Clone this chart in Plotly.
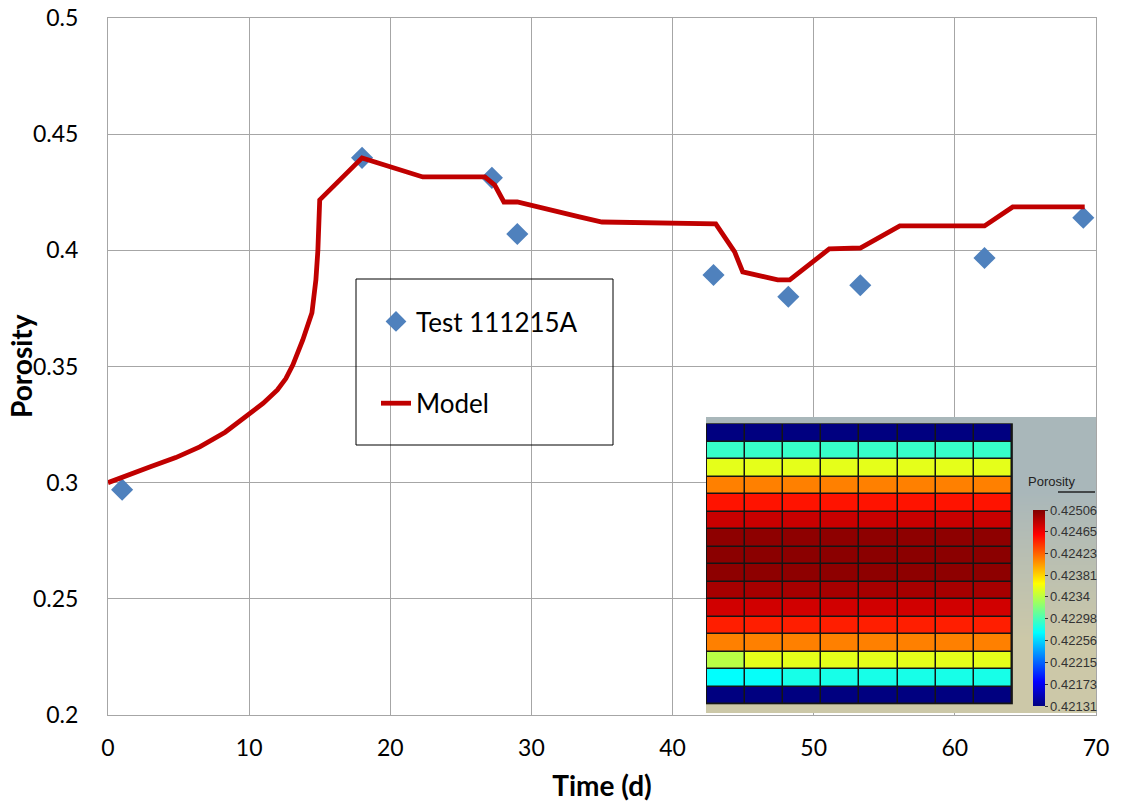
import plotly.graph_objects as go

# ---------------- data ----------------
test_t = [1, 18, 27.2, 29, 42.9, 48.2, 53.3, 62.1, 69.1]
test_p = [0.297, 0.4398, 0.4312, 0.407, 0.3894, 0.380, 0.385, 0.3967, 0.414]

model_t = [0, 1.5, 3, 4.8, 6.5, 8.3, 10, 11, 12, 12.6, 13.1, 13.8, 14.45, 14.73, 14.87, 15.0,
           18.0, 22.3, 26.7, 27.4, 28.05, 29.0, 33.4, 35, 43.06, 44.4, 44.97, 47.45,
           48.3, 51.1, 53.3, 56.1, 62.1, 64.1, 69.2]
model_p = [0.300, 0.3032, 0.3068, 0.3108, 0.3154, 0.3217, 0.3292, 0.3342, 0.3399, 0.3448, 0.3507,
           0.3614, 0.3731, 0.3873, 0.400, 0.4217, 0.4398, 0.4316, 0.4316, 0.4281, 0.4208,
           0.4208, 0.4144, 0.4122, 0.4114, 0.3993, 0.3907, 0.3873, 0.3873, 0.4006, 0.401,
           0.4105, 0.4105, 0.4187, 0.4187]

x_ticks = [0, 10, 20, 30, 40, 50, 60, 70]
y_ticks = [0.2, 0.25, 0.3, 0.35, 0.4, 0.45, 0.5]
y_ticktext = ["0.2", "0.25", "0.3", "0.35", "0.4", "0.45", "0.5"]

# inset porosity field (16 rows x 8 columns, top row first)
por_rows = [
    [0.42131] * 8,
    [0.42292] * 8,
    [0.42356] * 8,
    [0.42412] * 8,
    [0.42452] * 8,
    [0.42479] * 8,
    [0.42501] * 8,
    [0.42502] * 8,
    [0.42501] * 8,
    [0.42492] * 8,
    [0.42476] * 8,
    [0.42448] * 8,
    [0.42412] * 8,
    [0.42340] + [0.42356] * 7,
    [0.42272, 0.42274] + [0.42280] * 6,
    [0.42131] * 8,
]
cb_vals = [0.42506, 0.42465, 0.42423, 0.42381, 0.4234, 0.42298, 0.42256, 0.42215, 0.42173, 0.42131]
cb_text = ["0.42506", "0.42465", "0.42423", "0.42381", "0.4234", "0.42298", "0.42256",
           "0.42215", "0.42173", "0.42131"]
zmin, zmax = 0.42131, 0.42506

ncols = len(por_rows[0])
nrows = len(por_rows)
cols = list(range(ncols))
rows = list(range(nrows))

jet = [[0, "rgb(0,0,128)"], [0.125, "rgb(0,0,255)"], [0.375, "rgb(0,255,255)"],
       [0.625, "rgb(255,255,0)"], [0.875, "rgb(255,0,0)"], [1, "rgb(128,0,0)"]]

# ---------------- figure ----------------
W, H = 1122, 811
PL, PR, PT, PB = 108, 1096, 18, 715   # plot area in screen pixels
ml, mt = PL, PT
mr, mb = W - PR, H - PB
pw, ph = PR - PL, PB - PT


def px_x(p):
    return (p - PL) / pw


def px_y(p):
    return (PB - p) / ph


fig = go.Figure()

fig.add_trace(go.Scatter(
    x=test_t, y=test_p, mode="markers", name="Test 111215A",
    marker=dict(symbol="diamond", size=17, color="#4f81bd", line=dict(width=0)),
    legendgroup="a", xaxis="x", yaxis="y"))
fig.add_trace(go.Scatter(
    x=model_t, y=model_p, mode="lines", name="Model",
    line=dict(color="#c00000", width=4.8),
    legendgroup="b", xaxis="x", yaxis="y"))

# inset: background gradient, black grid base, porosity cells
x2_range = [-0.526, 9.71]
y2_range = [16.01, -0.9]
fig.add_trace(go.Heatmap(
    x=[x2_range[0], (x2_range[0] + x2_range[1]) / 2, x2_range[1]],
    y=[y2_range[1], (y2_range[0] + y2_range[1]) / 2, y2_range[0]],
    z=[[0, 0], [1, 1]], zsmooth="best",
    colorscale=[[0, "#a9b7ba"], [1, "#ccc8a8"]], showscale=False,
    hoverinfo="skip", xaxis="x2", yaxis="y2"))
fig.add_trace(go.Heatmap(
    x=[-0.5 - 0.03, ncols - 0.5 + 0.03], y=[-0.5 - 0.04, nrows - 0.5 + 0.04],
    z=[[0]], colorscale=[[0, "#151515"], [1, "#151515"]], showscale=False,
    hoverinfo="skip", xaxis="x2", yaxis="y2"))
fig.add_trace(go.Heatmap(
    x=cols, y=rows, z=por_rows, colorscale=jet, zmin=zmin, zmax=zmax,
    xgap=1.5, ygap=1.5, xaxis="x2", yaxis="y2",
    colorbar=dict(
        x=px_x(1033), xanchor="left", xpad=0, ypad=0,
        y=px_y(608), yanchor="middle", len=196 / ph, lenmode="fraction",
        thickness=12, thicknessmode="pixels", outlinewidth=0,
        tickvals=cb_vals, ticktext=cb_text, ticks="outside", ticklen=3,
        tickcolor="#333", tickwidth=1,
        tickfont=dict(family="Liberation Sans", size=13, color="#333"),
    )))

grid_color = "#a6a6a6"
tick_font = dict(family="Lato", size=23, color="#000")
title_font = dict(family="Lato", size=28, color="#000", weight="bold")

fig.update_layout(
    width=W, height=H,
    margin=dict(l=ml, r=mr, t=mt, b=mb, autoexpand=False),
    paper_bgcolor="white", plot_bgcolor="white",
    showlegend=True,
    legend=dict(
        x=px_x(376), y=px_y(298), xanchor="left", yanchor="top",
        bgcolor="rgba(0,0,0,0)", borderwidth=0,
        font=dict(family="Lato", size=26, color="#000"),
        tracegroupgap=45, traceorder="grouped",
    ),
    xaxis=dict(
        domain=[0, 1], range=[0, 70], tickvals=x_ticks, showgrid=True,
        gridcolor=grid_color, gridwidth=1, zeroline=False, showline=True, mirror=True,
        linecolor=grid_color, linewidth=1, ticks="", tickfont=tick_font,
        ticklabelstandoff=12, automargin=False,
        title=dict(text="Time (d)", font=title_font, standoff=16),
    ),
    yaxis=dict(
        domain=[0, 1], range=[0.2, 0.5], tickvals=y_ticks, ticktext=y_ticktext,
        showgrid=True, gridcolor=grid_color, gridwidth=1, zeroline=False,
        showline=True, mirror=True, linecolor=grid_color, linewidth=1, ticks="",
        tickfont=tick_font, ticklabelstandoff=24, automargin=False,
        ticklabeloverflow="allow",
    ),
    xaxis2=dict(domain=[px_x(706), px_x(1096)], range=x2_range, visible=False,
                anchor="y2", fixedrange=True),
    yaxis2=dict(domain=[px_y(713), px_y(417)], range=y2_range, visible=False,
                anchor="x2", fixedrange=True),
    shapes=[
        dict(type="rect", xref="paper", yref="paper",
             x0=px_x(356), x1=px_x(613), y0=px_y(445), y1=px_y(279),
             line=dict(color="#000", width=1), fillcolor="rgba(0,0,0,0)", layer="above"),
        dict(type="line", xref="paper", yref="paper",
             x0=px_x(1058), x1=px_x(1095), y0=px_y(492), y1=px_y(492),
             line=dict(color="#222", width=1.5), layer="above"),
    ],
    annotations=[
        dict(text="Porosity", xref="paper", yref="paper", x=px_x(1026), y=px_y(481),
             xanchor="left", yanchor="middle", showarrow=False,
             font=dict(family="Liberation Sans", size=13, color="#222")),
        dict(text="Porosity", xref="paper", yref="paper", x=px_x(21), y=px_y(366),
             xanchor="center", yanchor="middle", textangle=-90, showarrow=False,
             font=title_font),
    ],
)

fig.write_html("out.html", config={"displayModeBar": False},
               post_script="document.body.style.margin='0';")
